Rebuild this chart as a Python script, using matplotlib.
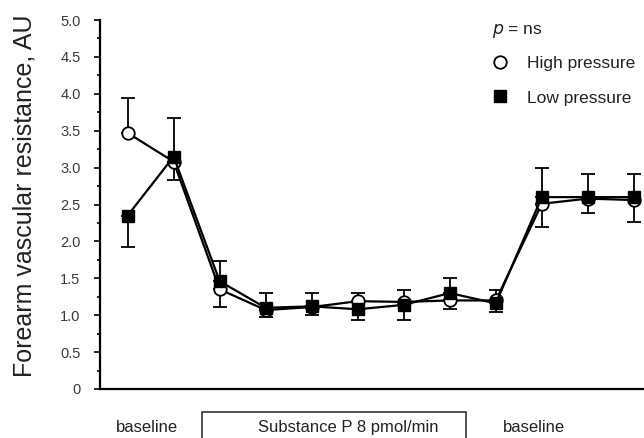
import matplotlib.pyplot as plt
from matplotlib.patches import Rectangle
from matplotlib.lines import Line2D
from matplotlib.transforms import blended_transform_factory
import numpy as np

plt.rcParams['font.family'] = ['Liberation Sans', 'DejaVu Sans']

# Forearm vascular resistance, 12 consecutive measurements
high = [3.47, 3.08, 1.35, 1.07, 1.11, 1.19, 1.18, 1.20, 1.20, 2.51, 2.58, 2.56]
low = [2.35, 3.15, 1.46, 1.10, 1.12, 1.08, 1.14, 1.30, 1.16, 2.60, 2.60, 2.60]
# error bars (only the visible half of each bar)
high_up = [0.47, 0, 0, 0, 0, 0.11, 0.16, 0, 0.14, 0, 0, 0]
high_dn = [0, 0.25, 0.24, 0.10, 0.11, 0, 0, 0.12, 0, 0.31, 0.19, 0.30]
low_up = [0, 0.52, 0.28, 0.20, 0.18, 0, 0, 0.21, 0, 0.39, 0.31, 0.31]
low_dn = [0.42, 0, 0, 0, 0, 0.14, 0.20, 0, 0.11, 0, 0, 0]

periods = ['baseline', 'Substance P 8 pmol/min', 'baseline']
period_centers = [0.43, 4.8, 8.83]

x = np.arange(len(high))

fig = plt.figure(figsize=(6.44, 4.38), dpi=100)
ax = fig.add_axes([0.1553, 0.1119, 0.8447, 0.8424])

ax.errorbar(x, high, yerr=[high_dn, high_up], fmt='o-', color='black', mfc='white',
            mec='black', mew=1.3, ms=9, lw=1.6, capsize=5, capthick=1.3, elinewidth=1.3,
            zorder=3)
ax.errorbar(x, low, yerr=[low_dn, low_up], fmt='s-', color='black', mfc='black',
            mec='black', ms=8.5, lw=1.6, capsize=5, capthick=1.3, elinewidth=1.3,
            zorder=4)

ax.set_xlim(-0.6, 11.22)
ax.set_ylim(0, 5.0)
ax.set_yticks(np.arange(0, 5.01, 0.5))
ax.set_yticklabels(['0'] + ['%.1f' % v for v in np.arange(0.5, 5.01, 0.5)])
ax.set_yticks(np.arange(0, 5.01, 0.25), minor=True)
ax.tick_params(axis='y', which='major', length=4, width=1.2, labelsize=10.5,
               labelcolor='#3a3a3a', pad=10)
ax.tick_params(axis='y', which='minor', length=2.5, width=1.2)
ax.set_xticks([])
for s in ['top', 'right']:
    ax.spines[s].set_visible(False)
ax.spines['left'].set_linewidth(1.6)
ax.spines['bottom'].set_linewidth(1.6)
fig.text(25 / 644, 1 - 196 / 438, 'Forearm vascular resistance, AU', rotation=90,
         fontsize=18, color='#222222', ha='center', va='center')

# legend
ax.text(0.72, 0.97, '$p$ = ns', transform=ax.transAxes, fontsize=12.5,
        color='#222222', va='center', ha='left')
handles = [Line2D([], [], ls='none', marker='o', mfc='white', mec='black', mew=1.3, ms=9),
           Line2D([], [], ls='none', marker='s', mfc='black', mec='black', ms=8.5)]
leg = ax.legend(handles, ['High pressure', 'Low pressure'], loc='upper left',
                bbox_to_anchor=(0.691, 0.944), frameon=False, fontsize=12.5,
                handlelength=1.0, handletextpad=1.05, labelspacing=1.09)
for t in leg.get_texts():
    t.set_color('#222222')

# period labels under the axis
trans = blended_transform_factory(ax.transData, fig.transFigure)
for lab, c in zip(periods, period_centers):
    ax.text(c, 0.025, lab, transform=trans, ha='center', va='center',
            fontsize=12, color='#222222')
fig.patches.append(Rectangle((201.7 / 644, -0.05), 264 / 644, 0.11,
                             transform=fig.transFigure, fill=False, ec='#333333', lw=1.2))

fig.savefig('out.png', dpi=100)
